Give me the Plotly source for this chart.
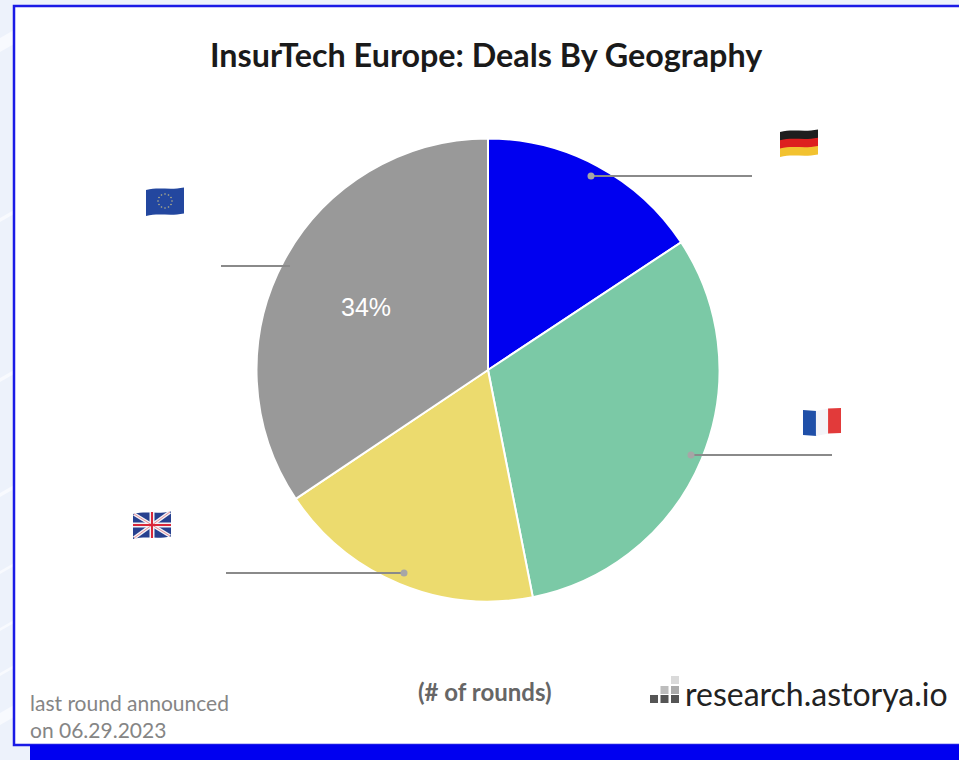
import plotly.graph_objects as go

categories = ["Germany", "France", "UK", "Europe"]
values = [15.7, 31.2, 18.7, 34.4]
colors = ["#0000F0", "#7BC9A6", "#ECDB6E", "#999999"]
slice_labels = ["", "", "", "34%"]
title_text = "InsurTech Europe: Deals By Geography"
unit_text = "(# of rounds)"
note_text = "last round announced<br>on 06.29.2023"
brand_text = "research.astorya.io"

W, H = 959, 760
def px(x): return x / W
def py(y): return 1 - y / H

shapes = []
def add(**k):
    shapes.append(dict(xref="paper", yref="paper", layer="above", **k))
def rect(x0, y0, x1, y1, fill, line=None, lw=0, layer="below"):
    shapes.append(dict(type="rect", xref="paper", yref="paper", layer=layer,
                       x0=px(x0), x1=px(x1), y0=py(y1), y1=py(y0), fillcolor=fill,
                       line=dict(color=line or fill, width=lw)))
def path(pts_str, fill=None, line=None, lw=0, layer="above"):
    shapes.append(dict(type="path", xref="paper", yref="paper", layer=layer, path=pts_str,
                       fillcolor=fill or "rgba(0,0,0,0)",
                       line=dict(color=line or "rgba(0,0,0,0)", width=lw)))
def P(x, y): return f"{px(x):.5f},{py(y):.5f}"

# faint background streaks on the left margin
for sy, th in [(30, 14), (210, 4), (370, 4), (485, 4), (563, 3), (620, 3), (665, 3), (705, 12)]:
    path(f"M{P(0, sy + 8)} L{P(14, sy)} L{P(14, sy + th)} L{P(0, sy + 8 + th)} Z", "#F8FAFE", layer="below")

# card + bottom band
rect(14, 6, 962, 745, "#FFFFFF", "#1A1AE6", 2.5)
rect(30, 745, 959, 760, "#0000F0")

# wavy flag helpers
def band(x0, x1, y0, h, f0, f1, fill):
    a = y0 + h * f0
    b = y0 + h * f1
    w = x1 - x0
    def edge(y):
        return (P(x0, y + 2), P(x0 + w * .35, y - 1.5), P(x0 + w * .6, y + 2.5), P(x1, y - .5))
    t = edge(a)
    m = edge(b)
    d = f"M{t[0]} C{t[1]} {t[2]} {t[3]} L{m[3]} C{m[2]} {m[1]} {m[0]} Z"
    path(d, fill)

def vband(x0, x1, y0, h, f0, f1, off0, off1, fill):
    w = x1 - x0
    xa, xb = x0 + w * f0, x0 + w * f1
    ya, yb = y0 + off0, y0 + off1
    path(f"M{P(xa, ya)} L{P(xb, yb)} L{P(xb, yb + h)} L{P(xa, ya + h)} Z", fill)

# Germany
for f0, f1, c in [(0, .36, "#1E1E1E"), (.33, .69, "#DD1F1F"), (.66, 1, "#F2C230")]:
    band(780, 818, 130, 25, f0, f1, c)
# France
for f0, f1, o0, o1, c in [(0, .36, 2, 3, "#1F4FA8"), (.34, .68, 3, 0.5, "#F4F4F8"), (.66, 1, 0.5, 0, "#E23A3A")]:
    vband(803, 841, 408, 25, f0, f1, o0, o1, c)
# UK
band(133, 171, 512, 25, 0, 1, "#27408F")
for wd, c in [(5, "#F2F2F5"), (2, "#D9283A")]:
    path(f"M{P(134, 514)} L{P(170, 536)} M{P(170, 512)} L{P(134, 538)}", None, c, wd - 1.5)
    path(f"M{P(152, 512)} L{P(152, 538)} M{P(133, 525)} L{P(171, 525)}", None, c, wd)
# EU
band(146, 184, 188, 26, 0, 1, "#23479F")
stars_x = [165, 168.5, 171, 172, 171, 168.5, 165, 161.5, 159, 158, 159, 161.5]
stars_y = [194, 195, 197.5, 201, 204.5, 207, 208, 207, 204.5, 201, 197.5, 195]
for sx, sy in zip(stars_x, stars_y):
    add(type="circle", x0=px(sx - .8), x1=px(sx + .8), y0=py(sy + .8), y1=py(sy - .8),
        fillcolor="#B9B48A", line=dict(width=0))

# brand logo
for x, y0, y1, c in [(650, 695, 703, "#555555"), (660.5, 695, 703, "#555555"), (671, 695, 703, "#555555"),
                     (660.5, 686, 694, "#BDBDBD"), (671, 686, 694, "#ABABAB"),
                     (671, 676, 684, "#DADADA")]:
    rect(x, y0, x + 8, y1, c, layer="above")

# leader lines
for x0, x1, y, dot in [(591, 752, 176, True), (691, 832, 455, True), (404, 226, 573, True), (290, 221, 266, False)]:
    add(type="line", x0=px(x0), x1=px(x1), y0=py(y), y1=py(y), line=dict(color="#8A8A8A", width=2))
    if dot:
        add(type="circle", x0=px(x0 - 3.5), x1=px(x0 + 3.5), y0=py(y + 3.5), y1=py(y - 3.5),
            fillcolor="#A6A6A6", line=dict(width=0))

def text(x, y, s, size, color, bold=False, anchor="center", align="center", family="Lato"):
    return dict(xref="paper", yref="paper", x=px(x), y=py(y), text=f"<b>{s}</b>" if bold else s,
                showarrow=False, xanchor=anchor, yanchor="middle", align=align,
                font=dict(family=family, size=size, color=color))

annotations = [
    text(486, 54, title_text, 32.3, "#1A1A1A", bold=True),
    text(485, 691, unit_text, 24, "#666666", bold=True),
    text(28, 716, note_text, 21, "#858585", anchor="left", align="left"),
    text(683, 693, brand_text, 32, "#222222", anchor="left"),
    text(366, 307, slice_labels[3], 25, "#FFFFFF", family="Liberation Sans"),
]

cx, cy, r = 488, 370, 231.5
fig = go.Figure(go.Pie(
    labels=categories, values=values, sort=False, direction="clockwise", rotation=0,
    marker=dict(colors=colors, line=dict(color="#FFFFFF", width=2)),
    textinfo="none",
    domain=dict(x=[px(cx - r), px(cx + r)], y=[py(cy + r), py(cy - r)]),
    showlegend=False, hoverinfo="label+percent",
))
fig.update_layout(
    width=W, height=H, margin=dict(l=0, r=0, t=0, b=0),
    paper_bgcolor="#EDF2FB", shapes=shapes, annotations=annotations,
)
fig.write_html("out.html", config={"displayModeBar": False},
               post_script="document.body.style.margin='0';document.documentElement.style.overflow='hidden';")
